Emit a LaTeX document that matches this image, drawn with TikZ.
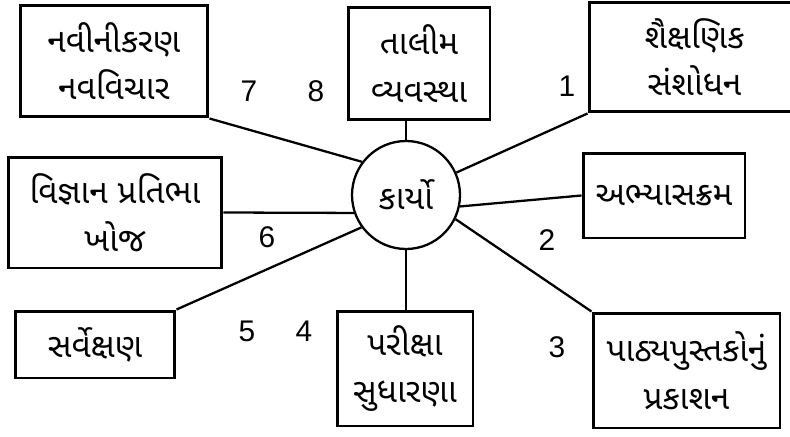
\documentclass[tikz,border=0pt]{standalone}
\usepackage{fontspec}
\setmainfont{Liberation Sans}
\newfontfamily\gujfont[Script=Gujarati]{Noto Sans Gujarati UI}
\usetikzlibrary{arrows}

\begin{document}
\begin{tikzpicture}[x=0.02cm,y=-0.02cm,
	box/.style={draw, line width=1.7pt, align=center, inner sep=0pt,
		font=\gujfont\fontsize{19}{27}\selectfont},
	num/.style={font=\fontsize{17}{20}\selectfont}]
			\useasboundingbox[fill=white] (0,0) rectangle (790,436);
			\node[draw, circle, line width=1.3pt, minimum size=2.16cm, inner sep=0pt,
				font=\gujfont\fontsize{19}{20}\selectfont] (k) at (406,195) {કાર્યો};
			\node[box, minimum width=3.76cm, minimum height=2.24cm] (t7) at (114,61) {નવીનીકરણ\\નવવિચાર};
			\node[box, minimum width=2.84cm, minimum height=2.26cm] (t8) at (419,63.5) {તાલીમ\\વ્યવસ્થા};
			\node[box, minimum width=4.22cm, minimum height=2.20cm] (t1) at (694.5,57) {શૈક્ષણિક\\સંશોધન};
			\node[box, minimum width=3.24cm, minimum height=1.70cm] (t2) at (664,195.5) {અભ્યાસક્રમ};
			\node[box, minimum width=3.74cm, minimum height=2.30cm] (t3) at (686.5,370.5) {પાઠ્યપુસ્તકોનું\\પ્રકાશન};
			\node[box, minimum width=2.72cm, minimum height=2.30cm] (t4) at (405,368.5) {પરીક્ષા\\સુધારણા};
			\node[box, minimum width=3.20cm, minimum height=1.34cm] (t5) at (95,344.5) {સર્વેક્ષણ};
			\node[box, minimum width=4.28cm, minimum height=2.22cm] (t6) at (115,212.5) {વિજ્ઞાન પ્રતિભા\\ખોજ};
			\node[num] (n1) at (567,86) {1};
			\node[num] (n2) at (547,240) {2};
			\node[num] (n3) at (557,347) {3};
			\node[num] (n4) at (304,331) {4};
			\node[num] (n5) at (247,331) {5};
			\node[num] (n6) at (267,237) {6};
			\node[num] (n7) at (249,91) {7};
			\node[num] (n8) at (316,91) {8};
			\path[-,line width=1.3pt]
			(k.143) edge (t7.south east)
			(k.north) edge (k.north |- t8.south)
			(k.24) edge (t1.south west)
			(k.348) edge (t2.west)
			(k.334) edge (t3.north west)
			(k.south) edge (k.south |- t4.north)
			(k.216) edge (t5.north east)
			(k.199) edge (t6.east);
		\end{tikzpicture}
\end{document}
